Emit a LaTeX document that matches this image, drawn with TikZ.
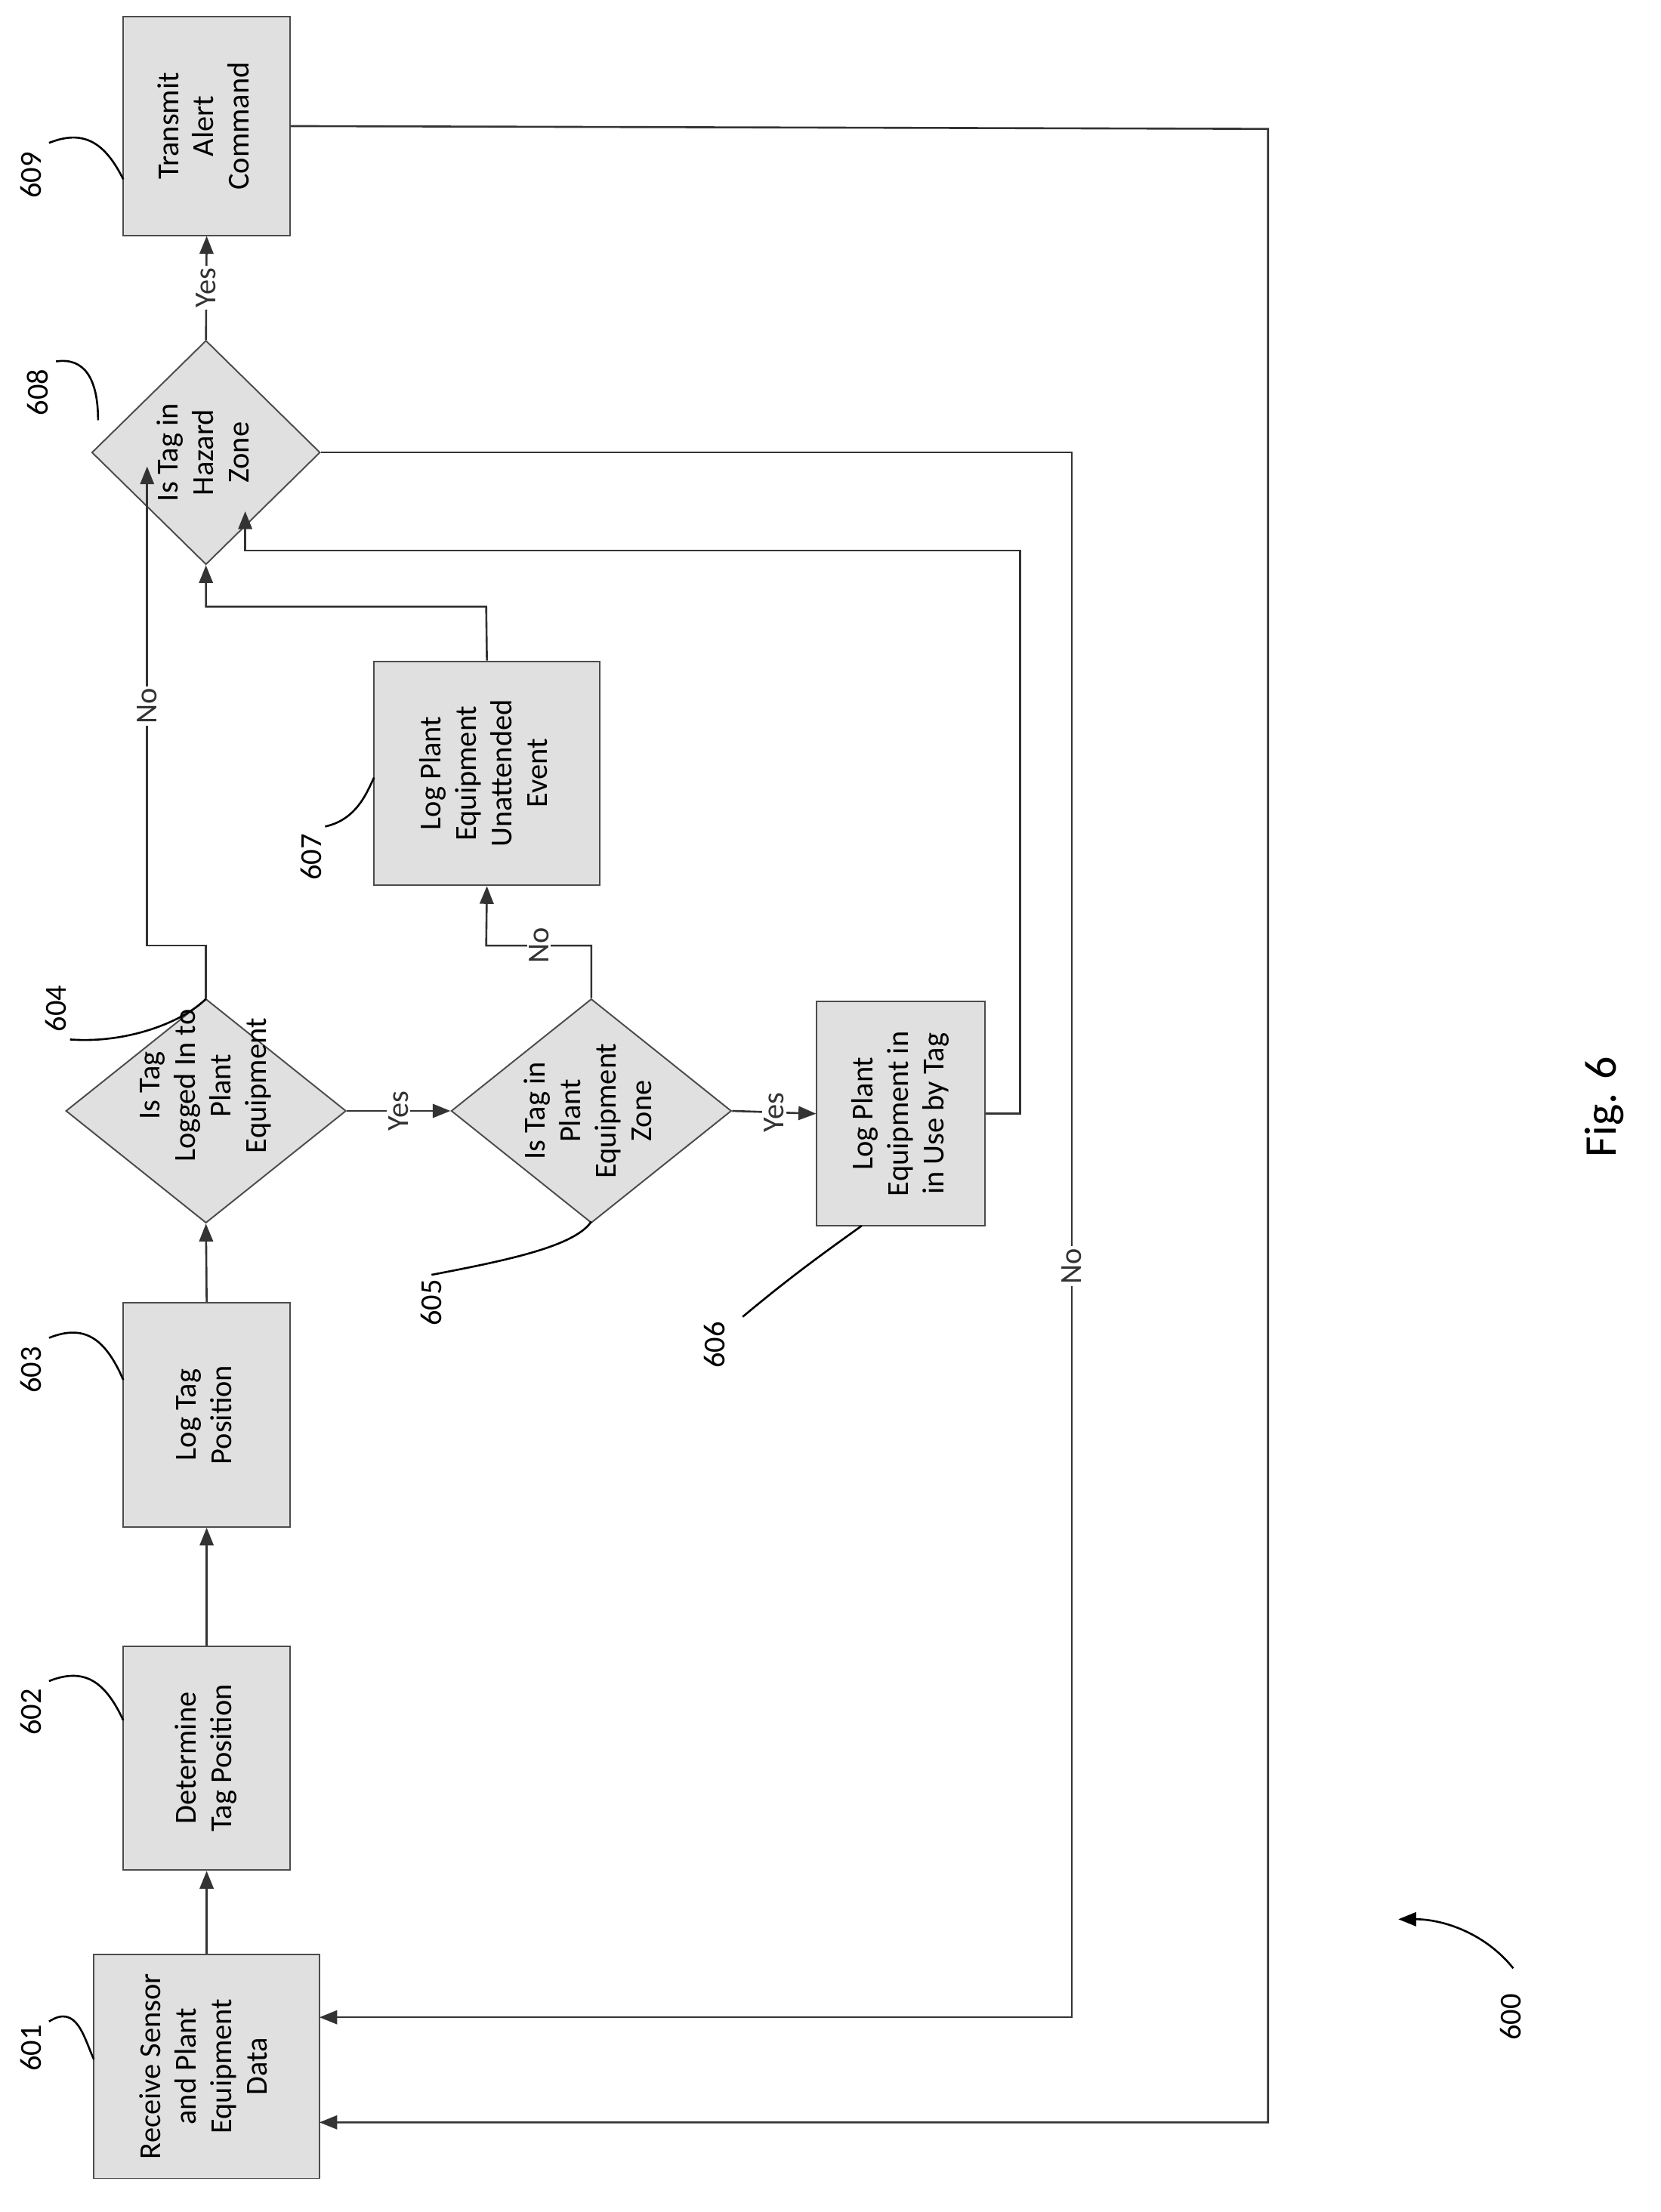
\documentclass[tikz,border=0pt]{standalone}
\usepackage{fontspec}
\setmainfont{Carlito}
\usetikzlibrary{shapes.geometric,arrows.meta}
\newcommand{\rt}[1]{\rotatebox{90}{\begin{tabular}{@{}c@{}}#1\end{tabular}}}
\begin{document}
\begin{tikzpicture}[x=0.05cm,y=-0.05cm,
  every node/.style={font=\fontsize{31}{36}\selectfont},
  box/.style={draw=black!70,line width=1.5pt,fill=black!12,inner sep=0pt},
  dia/.style={draw=black!70,line width=1.5pt,fill=black!12,diamond,inner sep=0pt,minimum width=10cm,minimum height=8cm},
  ln/.style={line width=2pt,black!80},
  arr/.style={ln,-{Triangle[length=18pt,width=14pt]}},
  lab/.style={fill=white,inner sep=2pt,rotate=90},
  ref/.style={rotate=90},
  lead/.style={line width=2pt}]
\useasboundingbox (0,0) rectangle (1185,1579);
% boxes
\node[box,minimum width=8.05cm,minimum height=8cm] (b601) at (147.5,1475) {\rt{Receive Sensor\\and Plant\\Equipment\\Data}};
\node[box,minimum width=5.95cm,minimum height=8cm] (b602) at (147.5,1255) {\rt{Determine\\Tag Position}};
\node[box,minimum width=5.95cm,minimum height=8cm] (b603) at (147.5,1010) {\rt{Log Tag\\Position}};
\node[dia] (d604) at (147,793) {};
\node at (147,775) {\rt{Is Tag\\Logged In to\\Plant\\Equipment}};
\node[dia] (d605) at (422,793) {};
\node at (422,793) {\rt{Is Tag in\\Plant\\Equipment\\Zone}};
\node[box,minimum width=6cm,minimum height=8cm] (b606) at (643,795) {\rt{Log Plant\\Equipment in\\in Use by Tag}};
\node[box,minimum width=8.05cm,minimum height=8cm] (b607) at (347.5,552) {\rt{Log Plant\\Equipment\\Unattended\\Event}};
\node[dia,minimum width=8.15cm] (d608) at (147,323) {};
\node at (147,323) {\rt{Is Tag in\\Hazard\\Zone}};
\node[box,minimum width=5.95cm,minimum height=7.8cm] (b609) at (147.5,90) {\rt{Transmit\\Alert\\Command}};
% connectors
\draw[arr] (b601.north) -- (b602.south);
\draw[arr] (b602.north) -- (b603.south);
\draw[arr] (b603.north) -- (d604.south);
\draw[arr] (d604.east) -- node[lab]{Yes} (d605.west);
\draw[arr] (d605.east) -- node[lab]{Yes} (b606.west);
\coordinate (c1) at (422,675); \coordinate (c2) at (347,675);
\draw[arr] (d605.north) -- (c1) -- node[lab,pos=0.5]{No} (c2) -- (b607.south);
\coordinate (c3) at (147,675); \coordinate (c4) at (105,675); \coordinate (t1) at (105,333);
\draw[arr] (d604.north) -- (c3) -- (c4) -- node[lab]{No} (t1);
\coordinate (c5) at (347,433); \coordinate (c6) at (147,433);
\draw[arr] (b607.north) -- (c5) -- (c6) -- (d608.south);
\coordinate (c7) at (728,795); \coordinate (c8) at (728,393); \coordinate (c9) at (175,393); \coordinate (t2) at (175,365);
\draw[arr] (b606.east) -- (c7) -- (c8) -- (c9) -- (t2);
\coordinate (c10) at (765,323); \coordinate (c11) at (765,1440); \coordinate (t3) at (228,1440);
\draw[arr] (d608.east) -- (c10) -- node[lab,pos=0.52]{No} (c11) -- (t3);
\draw[arr] (d608.north) -- node[lab]{Yes} (b609.south);
\coordinate (c12) at (905,92); \coordinate (c13) at (905,1515); \coordinate (t4) at (228,1515);
\draw[arr] (b609.east) -- (c12) -- (c13) -- (t4);
% reference numerals
\node[ref] (r601) at (22,1462) {601};
\draw[lead] (35,1443) .. controls (55,1430) and (60,1455) .. (67,1470);
\node[ref] (r602) at (22,1222) {602};
\draw[lead] (35,1200) .. controls (60,1190) and (75,1200) .. (88,1228);
\node[ref] (r603) at (22,978) {603};
\draw[lead] (35,955) .. controls (60,945) and (75,955) .. (88,985);
\node[ref] (r604) at (40,720) {604};
\draw[lead] (50,742) .. controls (90,745) and (130,730) .. (147,713);
\node[ref] (r605) at (308,930) {605};
\draw[lead] (308,910) .. controls (360,900) and (410,890) .. (422,872);
\node[ref] (r606) at (510,960) {606};
\draw[lead] (530,940) .. controls (560,915) and (580,900) .. (615,875);
\node[ref] (r607) at (222,612) {607};
\draw[lead] (232,590) .. controls (255,585) and (262,565) .. (267,555);
\node[ref] (r608) at (27,280) {608};
\draw[lead] (40,258) .. controls (60,255) and (70,270) .. (70,300);
\node[ref] (r609) at (22,125) {609};
\draw[lead] (35,102) .. controls (60,92) and (75,102) .. (88,128);
\node[ref] (r600) at (1078,1440) {600};
\draw[lead,-{Triangle[length=18pt,width=14pt]}] (1080,1405) .. controls (1060,1380) and (1030,1370) .. (998,1370);
\node[rotate=90,font=\fontsize{46}{54}\selectfont] (fig) at (1145,790) {Fig. 6};
\end{tikzpicture}
\end{document}
